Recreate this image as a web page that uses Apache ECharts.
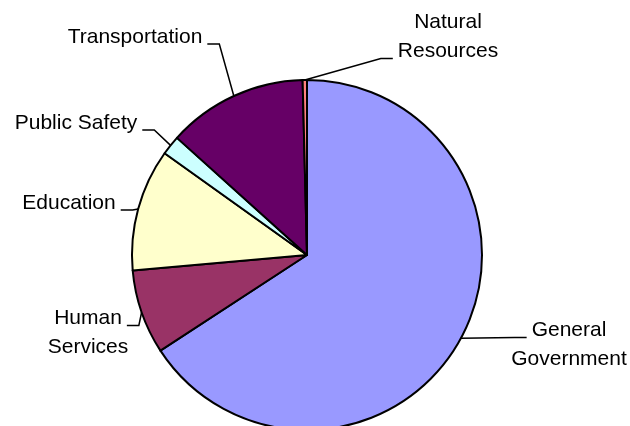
<!DOCTYPE html>
<html>
<head>
<meta charset="utf-8">
<script src="https://cdn.jsdelivr.net/npm/echarts@6/dist/echarts.min.js"></script>
<style>
  html, body { margin: 0; padding: 0; background: #fff; }
  #chart1 { width: 630px; height: 426px; }
</style>
</head>
<body>
<div id="chart1"></div>
<script>
var chart1 = echarts.init(document.getElementById('chart1'));

// categories and shares (clockwise from 12 o'clock)
var categories = ['General\nGovernment', 'Human\nServices', 'Education', 'Public Safety', 'Transportation', 'Natural\nResources'];
var values = [65.9, 7.8, 11.3, 1.8, 12.95, 0.4];
var colors = ['#9999FF', '#993366', '#FFFFCC', '#CCFFFF', '#660066', '#FF8080'];

// where each label sits (centre of text block)
var labelPos = [
    [569, 345],
    [88, 333],
    [69, 203],
    [76, 123],
    [135, 37],
    [448, 37]
];

var fontSize = 21;
var lineH = 29;
var fontName = 'Liberation Sans';

// measure a text line so the leader can start right next to it
var measureCtx = document.createElement('canvas').getContext('2d');
function textWidth(s) {
    measureCtx.font = fontSize + 'px ' + fontName;
    return measureCtx.measureText(s).width;
}

var pieData = [];
for (var i = 0; i < categories.length; i++) {
    pieData.push({
        name: categories[i],
        value: values[i],
        itemStyle: { color: colors[i] }
    });
}

chart1.setOption({
    backgroundColor: '#fff',
    animation: false,
    series: [
        {
            type: 'pie',
            center: [307, 255],
            radius: 175,
            startAngle: 90,
            clockwise: true,
            avoidLabelOverlap: false,
            data: pieData,
            itemStyle: {
                borderColor: '#000',
                borderWidth: 2
            },
            label: {
                show: true,
                position: 'outside',
                color: '#000',
                fontFamily: fontName,
                fontSize: fontSize,
                lineHeight: lineH,
                formatter: '{b}'
            },
            labelLine: {
                show: true,
                length: 10,
                length2: 12,
                smooth: false,
                minTurnAngle: 0,
                lineStyle: { color: '#000', width: 1.5 }
            },
            labelLayout: function (params) {
                var idx = params.dataIndex;
                var p = labelPos[idx];
                var out = {
                    x: p[0],
                    y: p[1],
                    align: 'center',
                    verticalAlign: 'middle'
                };
                var pts = params.labelLinePoints;
                if (!pts || !pts.length) {
                    return out;
                }
                // leader starts at the slice's middle on the rim
                var arc = pts[0];
                var lines = categories[idx].split('\n');
                var top = p[1] - lines.length * lineH / 2;
                // hook onto the text line nearest to the rim point
                var best = 0, bestD = Infinity;
                for (var k = 0; k < lines.length; k++) {
                    var cy = top + lineH * (k + 0.5);
                    if (Math.abs(cy - arc[1]) < bestD) {
                        bestD = Math.abs(cy - arc[1]);
                        best = k;
                    }
                }
                var ly = top + lineH * (best + 0.5) + 7;
                var w = textWidth(lines[best]);
                var textOnLeft = p[0] < arc[0];
                var edge = textOnLeft ? p[0] + w / 2 + 5 : p[0] - w / 2 - 5;
                var elbow = textOnLeft ? edge + 12 : edge - 12;
                out.labelLinePoints = [[arc[0], arc[1]], [elbow, ly], [edge, ly]];
                return out;
            }
        }
    ]
});

window.addEventListener('resize', function () {
    chart1.resize();
});
</script>
</body>
</html>
